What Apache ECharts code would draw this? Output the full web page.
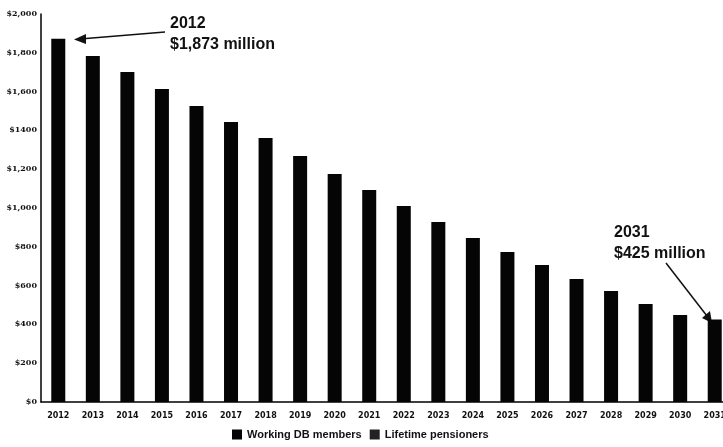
<!DOCTYPE html>
<html><head><meta charset="utf-8">
<script src="https://cdn.jsdelivr.net/npm/echarts@6/dist/echarts.min.js"></script>
<style>html,body{margin:0;padding:0;background:#fff;overflow:hidden;width:723px;height:447px}#c{width:732px;height:447px}</style>
</head><body><div id="c"></div>
<script>
const years = ['2012','2013','2014','2015','2016','2017','2018','2019','2020','2021','2022','2023','2024','2025','2026','2027','2028','2029','2030','2031'];
const workingDB = [1873,1784,1701,1613,1526,1443,1361,1268,1175,1093,1010,928,845,773,706,634,572,505,448,425];
const lifetimePensioners = [];
const yTickLabels = {0:'$0',200:'$200',400:'$400',600:'$600',800:'$800',1000:'$1,000',1200:'$1,200',1400:'$1400',1600:'$1,600',1800:'$1,800',2000:'$2,000'};

const chart = echarts.init(document.getElementById('c'));
const annFont = 'bold 16px "Liberation Sans", Arial, sans-serif';
chart.setOption({
  animation: false,
  backgroundColor: '#fff',
  grid: {left: 41, right: 0, top: 14, bottom: 45, containLabel: false},
  legend: {
    bottom: 2, left: 227, itemWidth: 10, itemHeight: 10, itemGap: 8,
    icon: 'rect',
    textStyle: {fontFamily: '"Liberation Sans", Arial, sans-serif', fontWeight: 'bold', fontSize: 11, color: '#111'},
    data: ['Working DB members', 'Lifetime pensioners']
  },
  xAxis: {
    type: 'category', data: years,
    axisLine: {lineStyle: {color: '#000', width: 1.5}},
    axisTick: {show: false},
    axisLabel: {color: '#111', fontSize: 8, fontWeight: 'bold', fontFamily: '"DejaVu Sans", sans-serif', margin: 10, interval: 0}
  },
  yAxis: {
    type: 'value', min: 0, max: 2000, interval: 200,
    axisLine: {show: true, lineStyle: {color: '#000', width: 1.5}},
    axisTick: {show: false},
    splitLine: {show: false},
    axisLabel: {color: '#111', fontSize: 8, fontWeight: 'bold', fontFamily: '"DejaVu Serif", serif', margin: 4,
      formatter: v => yTickLabels[v] !== undefined ? yTickLabels[v] : ''}
  },
  series: [
    {name: 'Working DB members', type: 'bar', stack: 's', data: workingDB, barWidth: 14, itemStyle: {color: '#050505'}},
    {name: 'Lifetime pensioners', type: 'bar', stack: 's', data: lifetimePensioners, barWidth: 14, itemStyle: {color: '#222'}}
  ],
  graphic: [
    {type: 'text', left: 170, top: 13, style: {text: '2012\n$1,873 million', font: annFont, fill: '#111', lineHeight: 21}},
    {type: 'line', shape: {x1: 165, y1: 32, x2: 80, y2: 39}, style: {stroke: '#111', lineWidth: 1.5}},
    {type: 'polygon', shape: {points: [[74, 39.5], [86, 34], [86, 44]]}, style: {fill: '#111'}},
    {type: 'text', left: 614, top: 222, style: {text: '2031\n$425 million', font: annFont, fill: '#111', lineHeight: 21}},
    {type: 'line', shape: {x1: 666, y1: 263, x2: 707, y2: 316}, style: {stroke: '#111', lineWidth: 1.5}},
    {type: 'polygon', shape: {points: [[712, 323], [702, 318], [710, 311]]}, style: {fill: '#111'}}
  ]
});
</script></body></html>
